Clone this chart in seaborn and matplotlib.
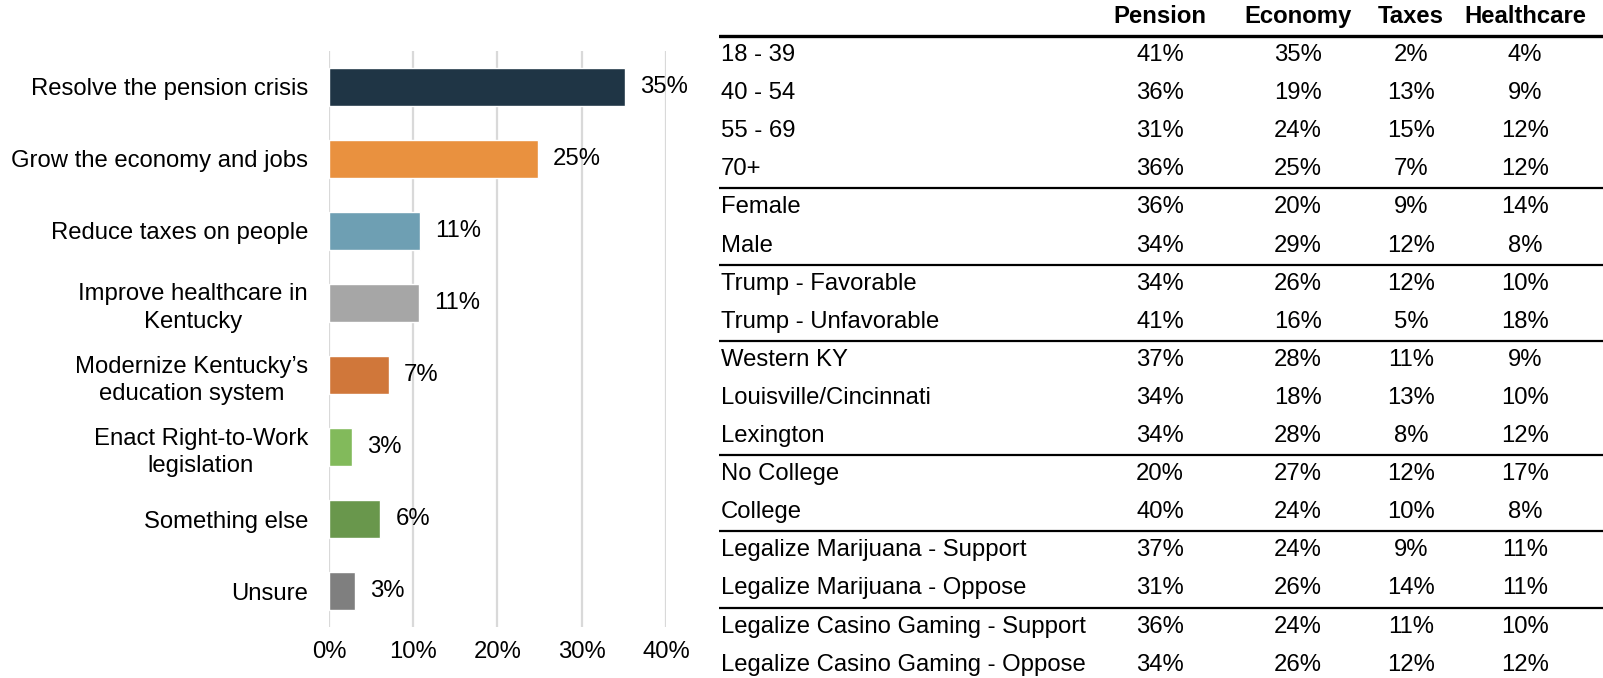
import matplotlib
matplotlib.use("Agg")
import matplotlib.pyplot as plt
import seaborn as sns
import pandas as pd

# --- data ---
priorities = [
    "Resolve the pension crisis",
    "Grow the economy and jobs",
    "Reduce taxes on people",
    "Improve healthcare in\nKentucky",
    "Modernize Kentucky\u2019s\neducation system",
    "Enact Right-to-Work\nlegislation",
    "Something else",
    "Unsure",
]
shares = [35.1, 24.8, 10.8, 10.7, 7.1, 2.7, 6.1, 3.1]
bar_colors = ["#1F3545", "#E9913F", "#6E9FB3", "#A6A6A6",
              "#D0773A", "#82BA5B", "#69974C", "#7F7F7F"]
x_ticks = [0, 10, 20, 30, 40]

table_cols = ["Pension", "Economy", "Taxes", "Healthcare"]
groups = ["18 - 39", "40 - 54", "55 - 69", "70+",
          "Female", "Male",
          "Trump - Favorable", "Trump - Unfavorable",
          "Western KY", "Louisville/Cincinnati", "Lexington",
          "No College", "College",
          "Legalize Marijuana - Support", "Legalize Marijuana - Oppose",
          "Legalize Casino Gaming - Support", "Legalize Casino Gaming - Oppose"]
pension = [41, 36, 31, 36, 36, 34, 34, 41, 37, 34, 34, 20, 40, 37, 31, 36, 34]
economy = [35, 19, 24, 25, 20, 29, 26, 16, 28, 18, 28, 27, 24, 24, 26, 24, 26]
taxes = [2, 13, 15, 7, 9, 12, 12, 5, 11, 13, 8, 12, 10, 9, 14, 11, 12]
healthcare = [4, 9, 12, 12, 14, 8, 10, 18, 9, 10, 12, 17, 8, 11, 11, 10, 12]
# last row index of each block (a rule is drawn under it)
block_ends = [3, 5, 7, 10, 12, 14]

FS = 17.2

sns.set_theme(style="white")
plt.rcParams["font.family"] = ["Liberation Sans", "DejaVu Sans"]

fig = plt.figure(figsize=(16.03, 6.78), dpi=100)

# --- left: bar chart ---
ax = fig.add_axes([0.2052, 0.0752, 0.2102, 0.8496])
df = pd.DataFrame({"priority": priorities, "share": shares})
sns.barplot(data=df, x="share", y="priority", hue="priority",
            palette=bar_colors, orient="h", width=0.54, legend=False,
            saturation=1, ax=ax)
ax.set_xlim(0, 40)
ax.set_xticks(x_ticks)
ax.set_xticklabels([f"{t}%" for t in x_ticks])
ax.set_xlabel("")
ax.set_ylabel("")
ax.xaxis.grid(True, color="#D9D9D9", linewidth=1.6)
ax.set_axisbelow(True)
for s in ax.spines.values():
    s.set_visible(False)
ax.tick_params(axis="x", length=0, pad=10, labelsize=FS, colors="black")
ax.tick_params(axis="y", length=0, pad=15, labelsize=FS, colors="black")
for lbl in ax.get_yticklabels():
    lbl.set_multialignment("center")
    lbl.set_linespacing(1.3)

for cont, v in zip(ax.containers, shares):
    ax.bar_label(cont, labels=[f"{v:.0f}%"], padding=11, fontsize=FS, color="black")

# --- right: table ---
tx = fig.add_axes([719 / 1603, 0, 1 - 719 / 1603, 1])
tx.set_xlim(0, 1)
tx.set_ylim(16.35, -1.444)
tx.axis("off")

col_x = [0.499, 0.655, 0.783, 0.912]
for cx, name in zip(col_x, table_cols):
    tx.text(cx, -1, name, ha="center", va="center", fontsize=FS,
            fontweight="bold", color="black")

cols = [pension, economy, taxes, healthcare]
for i, g in enumerate(groups):
    tx.text(0.002, i, g, ha="left", va="center", fontsize=FS, color="black")
    for cx, vals in zip(col_x, cols):
        tx.text(cx, i, f"{vals[i]}%", ha="center", va="center",
                fontsize=FS, color="black")

tx.axhline(-0.5, color="black", linewidth=2.4)
for r in block_ends:
    tx.axhline(r + 0.5, color="black", linewidth=1.6)

fig.savefig("out.png", dpi=100)
